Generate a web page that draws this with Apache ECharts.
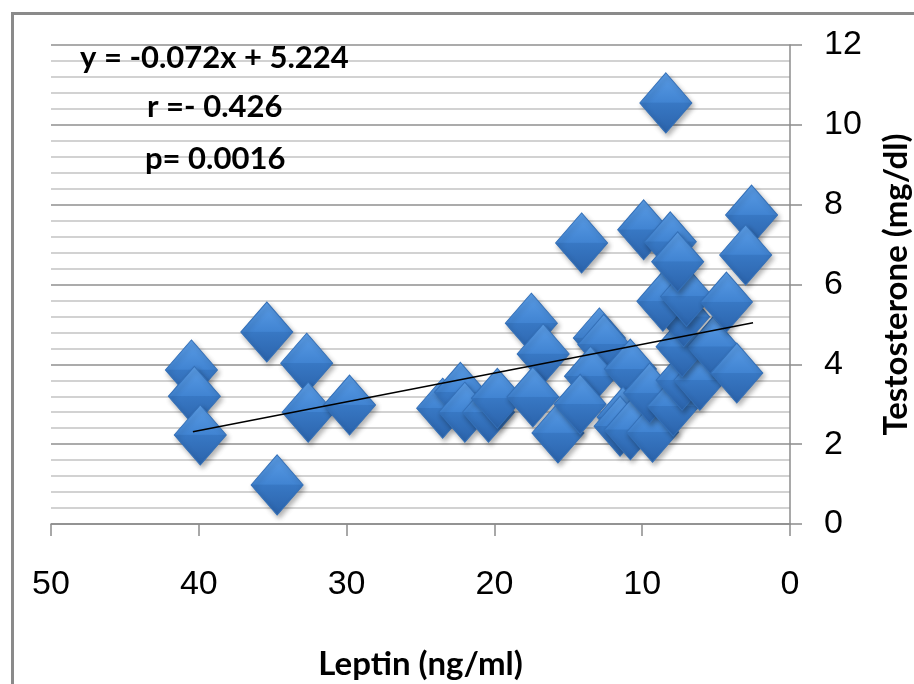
<!DOCTYPE html>
<html>
<head>
<meta charset="utf-8">
<script src="https://cdn.jsdelivr.net/npm/echarts@6/dist/echarts.min.js"></script>
<style>
html,body{margin:0;padding:0;background:#fff;}
#chart{width:914px;height:684px;}
</style>
</head>
<body>
<div id="chart"></div>
<script>
// Leptin (ng/ml) values
var leptin = [40.5, 40.3, 39.9, 35.4, 32.7, 32.6, 29.8, 34.7,
  23.5, 22.3, 22.0, 20.4, 19.8, 17.5, 16.7, 17.4, 15.7, 14.1,
  12.9, 12.6, 13.5, 14.2, 10.8, 11.3, 11.5, 10.8, 9.3, 9.5,
  7.9, 7.3, 6.1, 7.3, 5.2, 3.6, 7.2, 8.6, 7.0, 4.3, 9.9, 8.1,
  7.6, 2.6, 3.0, 8.4];
// Testosterone (mg/dl) values
var testosterone = [3.86, 3.2, 2.23, 4.81, 4.03, 2.8, 2.98, 0.98,
  2.9, 3.3, 2.8, 2.8, 3.15, 5.03, 4.26, 3.18, 2.28, 7.04,
  4.66, 4.5, 3.7, 3.0, 3.88, 2.68, 2.45, 2.36, 2.3, 3.28,
  2.95, 3.6, 3.6, 4.44, 4.44, 3.78, 5.19, 5.58, 5.7, 5.56, 7.37, 7.07,
  6.57, 7.74, 6.74, 10.55];
// Trend line endpoints
var trendX = [40.4, 2.5];
var trendY = [2.31, 5.04];
var xTicks = [0, 10, 20, 30, 40, 50];
var yTicks = [0, 2, 4, 6, 8, 10, 12];
var annotations = ['y = -0.072x + 5.224', 'r =- 0.426', 'p= 0.0016'];

var points = leptin.map(function (x, i) { return [x, testosterone[i]]; });
var trend = trendX.map(function (x, i) { return [x, trendY[i]]; });

var chart = echarts.init(document.getElementById('chart'));
var axisGray = '#8c8c8c';
chart.setOption({
  backgroundColor: '#fff',
  animation: false,
  grid: { left: 51, right: 124, top: 45, bottom: 160, outerBoundsMode: 'none', containLabel: false },
  xAxis: {
    type: 'value', inverse: true,
    min: xTicks[0], max: xTicks[xTicks.length - 1], interval: 10,
    name: 'Leptin (ng/ml)', nameLocation: 'middle', nameGap: 124,
    nameTextStyle: { fontFamily: 'Lato', fontWeight: 'bold', fontSize: 33, color: '#000' },
    axisLine: { show: true, lineStyle: { color: axisGray, width: 1.5 } },
    axisTick: { show: true, length: 12, lineStyle: { color: axisGray, width: 1.5 } },
    axisLabel: { margin: 44, fontFamily: 'Liberation Sans', fontSize: 34, color: '#000' },
    splitLine: { show: false }
  },
  yAxis: {
    type: 'value', position: 'right',
    min: yTicks[0], max: yTicks[yTicks.length - 1], interval: 2,
    name: 'Testosterone (mg/dl)', nameLocation: 'middle', nameGap: 90, nameRotate: 90,
    nameTextStyle: { fontFamily: 'Lato', fontWeight: 'bold', fontSize: 33, color: '#000' },
    axisLine: { show: true, lineStyle: { color: axisGray, width: 1.5 } },
    axisTick: { show: true, length: 12, lineStyle: { color: axisGray, width: 1.5 } },
    axisLabel: { margin: 34, fontFamily: 'Liberation Sans', fontSize: 34, color: '#000' },
    splitLine: { show: true, lineStyle: { color: '#8f8f8f', width: 1.5 } },
    minorTick: { show: false, splitNumber: 5 },
    minorSplitLine: { show: true, lineStyle: { color: '#c4c4c4', width: 1.5 } }
  },
  series: [
    {
      type: 'scatter',
      data: points,
      symbol: 'diamond',
      symbolSize: [52, 60],
      z: 3,
      itemStyle: {
        opacity: 1,
        color: {
          type: 'linear', x: 0, y: 0, x2: 0, y2: 1,
          colorStops: [
            { offset: 0, color: '#5b9de6' },
            { offset: 0.49, color: '#4184d2' },
            { offset: 0.5, color: '#3878c4' },
            { offset: 1, color: '#2b63ab' }
          ]
        },
        borderColor: '#3470b8',
        borderWidth: 1,
        shadowBlur: 5,
        shadowColor: 'rgba(0,0,0,0.3)',
        shadowOffsetX: 2,
        shadowOffsetY: 3
      }
    },
    {
      type: 'line',
      data: trend,
      symbol: 'none',
      z: 4,
      lineStyle: { color: '#000', width: 1.5 }
    }
  ],
  graphic: [
    { type: 'rect', left: 10, top: 11, z: 100, silent: true,
      shape: { width: 920, height: 700 },
      style: { fill: 'none', stroke: '#8a8a8a', lineWidth: 3 } },
    { type: 'text', left: 80, top: 42, z: 101,
      style: { text: annotations[0], fontFamily: 'Lato', fontWeight: 'bold', fontSize: 31, fill: '#000' } },
    { type: 'text', left: 147, top: 91, z: 101,
      style: { text: annotations[1], fontFamily: 'Lato', fontWeight: 'bold', fontSize: 31, fill: '#000' } },
    { type: 'text', left: 145, top: 143, z: 101,
      style: { text: annotations[2], fontFamily: 'Lato', fontWeight: 'bold', fontSize: 31, fill: '#000' } }
  ]
});
</script>
</body>
</html>
